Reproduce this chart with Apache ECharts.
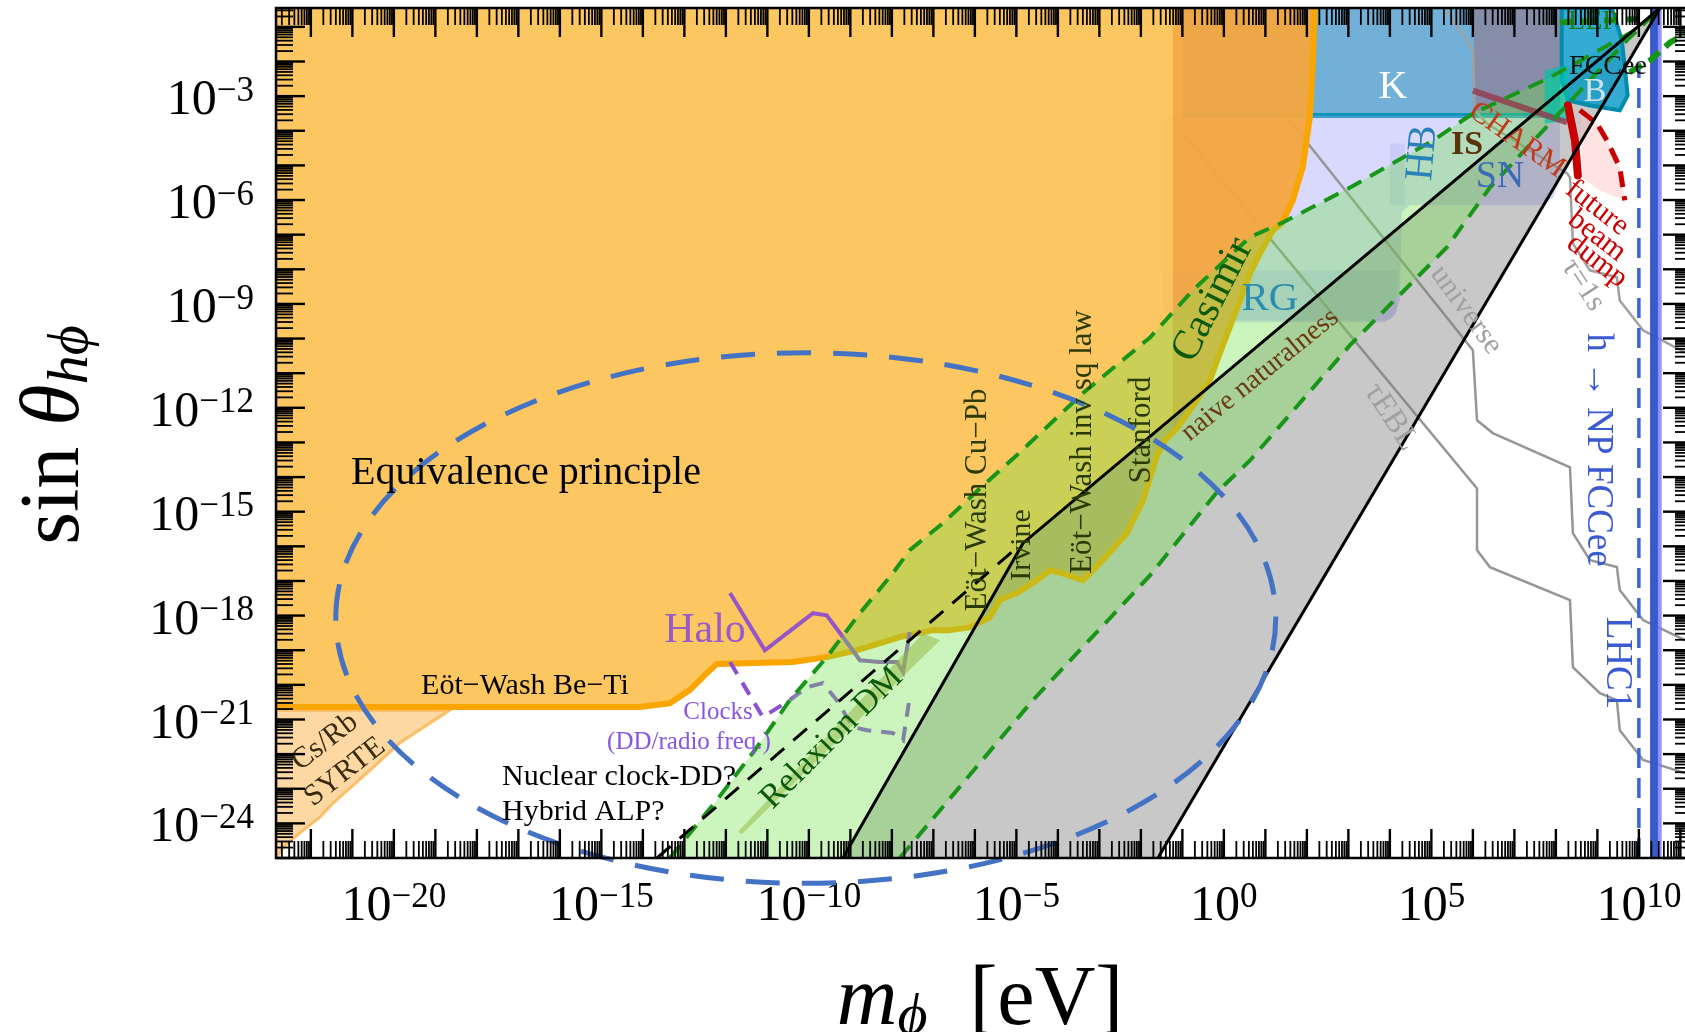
<!DOCTYPE html>
<html>
<head>
<meta charset="utf-8">
<script src="https://cdn.jsdelivr.net/npm/echarts@6/dist/echarts.min.js"></script>
<style>
  html, body { margin: 0; padding: 0; background: #fff; }
  #chart { width: 1685px; height: 1032px; }
</style>
</head>
<body>
<div id="chart"></div>
<script>
// All coordinates are [log10(m_phi / eV), log10(sin theta_hphi)].
const xTickLabels = [-20, -15, -10, -5, 0, 5, 10];
const yTickLabels = [-3, -6, -9, -12, -15, -18, -21, -24];

// Equivalence-principle / fifth-force exclusion (outline runs from the top edge down the Casimir edge, then along the Eot-Wash bounds)
const equivalencePrinciple = [
  [-22.84, -0.455], [2.19, -0.455], [2.14, -2.17], [2.07, -3.62], [1.90, -5.06], [1.66, -6.01],
  [1.40, -6.67], [1.18, -6.88], [0.87, -7.54], [0.63, -8.12], [0.39, -8.90], [0.14, -9.68],
  [-0.10, -10.43], [-0.34, -11.21], [-0.65, -11.78], [-0.99, -12.36], [-1.18, -12.65], [-1.42, -12.94],
  [-1.61, -13.37], [-1.95, -14.67], [-2.34, -15.62], [-2.92, -16.40], [-3.40, -16.98], [-3.88, -16.78],
  [-4.19, -16.69], [-4.60, -17.06], [-4.99, -17.35], [-5.40, -17.55], [-5.64, -18.05], [-6.12, -18.34],
  [-6.60, -18.42], [-7.01, -18.42], [-7.81, -18.62], [-8.84, -19.00], [-9.57, -19.20], [-10.39, -19.34],
  [-12.22, -19.40], [-12.51, -19.72], [-12.87, -20.15], [-13.35, -20.53], [-14.07, -20.64], [-22.84, -20.64]
];
const casimirRegion = [
  [-1.23, -0.455], [2.19, -0.455], [2.14, -2.17], [2.07, -3.62], [1.90, -5.06], [1.66, -6.01],
  [1.40, -6.67], [1.18, -6.88], [0.87, -7.54], [0.63, -8.12], [0.39, -8.90], [0.14, -9.68],
  [-0.10, -10.43], [-0.34, -11.21], [-0.65, -11.78], [-0.99, -12.36], [-1.18, -12.65], [-1.23, -12.70]
];
const syrteClocks = [
  [-22.84, -20.73], [-18.65, -20.73], [-19.86, -21.68], [-20.65, -22.55], [-21.47, -23.42],
  [-21.78, -23.82], [-22.27, -24.28], [-22.67, -24.69], [-22.84, -25.0]
];
// Naive-naturalness wedge bounded by the two solid black lines
const naturalnessLeft = [[-9.18, -25.0], [-4.84, -15.91], [10.51, -0.455]];
const naturalnessRight = [[-1.59, -25.0], [10.51, -0.455]];
const hybridAlpLine = [[-13.66, -25.0], [-4.92, -15.97]];
// Relaxion band between the two green dashed lines
const relaxionUpper = [
  [-13.35, -25.0], [-12.22, -23.33], [-11.25, -21.80], [-10.46, -20.44], [-9.57, -19.20], [-8.77, -17.93],
  [-7.98, -16.78], [-7.57, -16.11], [-6.77, -15.33], [-5.88, -14.33], [-4.99, -13.37], [-3.40, -11.58],
  [-1.78, -9.97], [-0.75, -8.61], [0.63, -7.07], [1.42, -6.65], [3.04, -5.64], [5.04, -4.28],
  [6.00, -3.50], [7.86, -2.46], [10.02, -1.02], [10.51, -0.455]
];
const relaxionLower = [
  [-7.81, -25.0], [-4.60, -20.44], [-3.47, -19.00], [-1.78, -16.84], [-0.17, -14.44], [0.63, -13.52],
  [3.04, -10.19], [5.37, -7.37], [6.41, -5.64], [8.10, -3.47], [9.71, -1.39], [10.51, -0.455]
];
const relaxionDM = [[-11.71, -24.25], [-7.25, -18.51], [-6.84, -18.71], [-11.61, -24.31]];
const haloLine = [
  [-11.90, -17.35], [-11.06, -19.00], [-9.90, -17.93], [-9.57, -17.99], [-9.18, -18.62],
  [-8.77, -19.29], [-8.29, -19.34], [-7.88, -19.34], [-7.73, -19.63], [-7.57, -18.48]
];
const clocksLine = [
  [-11.90, -19.34], [-11.11, -20.93], [-10.46, -20.44], [-10.05, -20.07], [-9.66, -19.95], [-9.33, -20.44],
  [-8.94, -21.22], [-8.60, -21.31], [-7.98, -21.39], [-7.73, -21.60], [-7.57, -20.36]
];
// Meson decays, astrophysics and beam dumps
const kaonRegion = [[-0.99, -0.455], [8.10, -0.455], [8.10, -3.56], [-0.99, -3.56]];
const kaonEdge = [[-0.99, -3.56], [8.10, -3.56]];
const heavyMesonOverlay = [[6.02, -0.455], [8.10, -0.455], [8.10, -3.56], [6.02, -3.56]];
const stellarRegion = [
  [-1.47, -3.56], [8.10, -3.56], [8.10, -5.43], [7.93, -5.95], [7.61, -6.15], [4.48, -6.15], [4.29, -6.36],
  [4.24, -8.90], [4.12, -9.33], [3.88, -9.53], [-1.18, -9.53], [-1.42, -9.33], [-1.47, -8.90]
];
const redGiantBand = [[-1.47, -8.03], [4.17, -8.03], [4.17, -9.18], [4.00, -9.47], [-1.18, -9.47], [-1.47, -9.18]];
const horizontalBranch = [[4.00, -4.37], [4.36, -4.37], [4.36, -6.15], [4.00, -6.15]];
const bMesonRegion = [[8.14, -0.455], [9.35, -0.455], [9.59, -1.39], [9.73, -2.98], [9.54, -3.41], [8.82, -3.27], [8.29, -3.12], [8.14, -2.55]];
const tealPatch = [[7.73, -2.26], [8.27, -2.11], [8.34, -3.70], [7.73, -3.79]];
const charmEdge = [[6.00, -2.84], [8.27, -3.76]];
const charmBound = [[8.29, -3.27], [8.46, -4.28], [8.53, -5.29]];
const futureBeamDump = [[8.58, -3.41], [8.99, -3.79], [9.23, -4.28], [9.54, -5.06], [9.66, -6.01]];
const futureBeamDumpInner = [[9.06, -5.72], [8.65, -5.38]];
const lepBound = [[8.10, -0.87], [10.27, -0.76]];
const fccReach = [[9.78, -2.31], [10.27, -1.97], [10.75, -1.45], [11.28, -1.10]];
const fccHiggs = [[10.0, -25.0], [10.0, -2.2]];
const lhcStrip = [[10.27, -25.0], [10.46, -25.0], [10.46, -0.455], [10.27, -0.455]];
const lhcEdge = [[10.46, -25.0], [10.55, -25.0], [10.55, -0.455], [10.46, -0.455]];
// Lifetime contours
const lifetimeUniverse = [
  [-0.58, -0.455], [6.00, -10.34], [6.10, -12.36], [6.48, -12.73], [8.34, -13.72], [8.41, -15.62],
  [8.82, -16.40], [9.47, -16.60], [9.54, -17.26], [10.10, -18.13], [11.11, -18.71], [11.28, -18.80]
];
const lifetimeEBL = [
  [-0.94, -4.14], [6.10, -14.33], [6.10, -16.11], [6.41, -16.60], [8.34, -17.55], [8.41, -19.49],
  [9.06, -20.24], [9.47, -20.44], [9.54, -21.31], [10.10, -22.17], [11.11, -22.55], [11.28, -22.61]
];
const lifetimeOneSecond = [
  [5.33, -0.455], [6.00, -1.68], [6.05, -3.41], [6.34, -3.79], [8.27, -5.23], [8.34, -5.35], [8.41, -7.25],
  [8.82, -8.03], [9.47, -8.23], [9.54, -8.90], [10.10, -9.76], [11.11, -10.40], [11.28, -10.48]
];
// Bounding box (lower-left, upper-right) of the dashed target ellipse
const targetEllipseBox = [[-21.40, -25.73], [1.25, -10.41]];

const FONT = 'Liberation Serif';
const X_MIN = -22.84, X_MAX = 11.28, Y_MIN = -25.0, Y_MAX = -0.455;

let zc = 1;
function polygon(name, pts, style, clip = true) {
  return {
    type: 'custom', name, coordinateSystem: 'cartesian2d', z: zc++, clip, silent: true,
    data: [pts[0]], encode: { x: 0, y: 1 },
    renderItem: (p, api) => ({ type: 'polygon', shape: { points: pts.map(q => api.coord(q)) }, style })
  };
}
function polyline(name, pts, style, clip = true) {
  return {
    type: 'custom', name, coordinateSystem: 'cartesian2d', z: zc++, clip, silent: true,
    data: [pts[0]], encode: { x: 0, y: 1 },
    renderItem: (p, api) => ({ type: 'polyline', shape: { points: pts.map(q => api.coord(q)) }, style: Object.assign({ fill: 'none' }, style) })
  };
}

const series = [
  polygon('K', kaonRegion, { fill: 'rgba(60,145,200,0.72)' }),
  polygon('heavy', heavyMesonOverlay, { fill: 'rgba(160,100,110,0.45)' }),
  polyline('K edge', kaonEdge, { stroke: 'rgb(0,150,185)', lineWidth: 5 }),
  polygon('stellar', stellarRegion, { fill: 'rgba(160,160,250,0.40)' }),
  polygon('RG', redGiantBand, { fill: 'rgba(90,120,200,0.15)' }),
  polygon('HB', horizontalBranch, { fill: 'rgba(120,130,220,0.15)' }),
  polyline('tau universe', lifetimeUniverse, { stroke: 'rgb(150,150,150)', lineWidth: 2.5 }),
  polyline('tau EBL', lifetimeEBL, { stroke: 'rgb(150,150,150)', lineWidth: 2.5 }),
  polyline('tau 1s', lifetimeOneSecond, { stroke: 'rgb(160,160,160)', lineWidth: 2.5 }),
  polygon('EP', equivalencePrinciple, { fill: 'rgba(252,194,84,0.93)' }),
  polygon('SYRTE', syrteClocks, { fill: 'rgba(252,190,100,0.6)', stroke: 'rgba(250,180,80,0.8)', lineWidth: 3 }),
  polygon('Casimir', casimirRegion, { fill: 'rgba(230,120,30,0.35)' }),
  polygon('naturalness', naturalnessLeft.concat(naturalnessRight.slice().reverse()), { fill: 'rgba(128,128,128,0.43)' }),
  polyline('EP edge', equivalencePrinciple.slice(1), { stroke: 'rgb(250,165,0)', lineWidth: 6, lineJoin: 'round' }),
  polyline('Halo', haloLine, { stroke: 'rgb(150,85,200)', lineWidth: 4 }),
  polyline('Clocks', clocksLine, { stroke: 'rgb(140,80,215)', lineWidth: 4, lineDash: [14, 10] }),
  polygon('Relaxion DM', relaxionDM, { fill: 'rgba(175,165,80,0.55)' }),
  polygon('relaxion', relaxionUpper.concat(relaxionLower.slice().reverse()), { fill: 'rgba(110,225,70,0.35)' }),
  polygon('future beam dump area', futureBeamDump.concat(futureBeamDumpInner), { fill: 'rgba(255,190,190,0.45)' }),
  polygon('B', bMesonRegion, { fill: 'rgba(0,150,200,0.8)', stroke: 'rgb(0,140,170)', lineWidth: 4 }),
  polygon('teal', tealPatch, { fill: 'rgba(0,195,170,0.7)' }),
  polyline('CHARM edge', charmEdge, { stroke: 'rgba(150,50,70,0.75)', lineWidth: 6 }),
  polyline('CHARM', charmBound, { stroke: 'rgb(200,0,0)', lineWidth: 8, lineCap: 'round' }),
  polyline('future beam dump', futureBeamDump, { stroke: 'rgb(200,0,0)', lineWidth: 5, lineDash: [16, 9] }),
  polygon('LHC', lhcStrip, { fill: 'rgb(55,90,205)' }),
  polygon('LHC edge', lhcEdge, { fill: 'rgba(120,120,255,0.8)' }),
  polyline('FCC higgs', fccHiggs, { stroke: 'rgb(60,100,215)', lineWidth: 3.5, lineDash: [20, 10] }),
  polyline('LEP', lepBound, { stroke: 'rgb(20,150,20)', lineWidth: 6, lineDash: [14, 8] }),
  polyline('FCC reach', fccReach, { stroke: 'rgb(20,150,20)', lineWidth: 6, lineDash: [14, 8] }),
  polyline('relaxion upper', relaxionUpper, { stroke: 'rgb(25,150,25)', lineWidth: 4, lineDash: [16, 10] }),
  polyline('relaxion lower', relaxionLower, { stroke: 'rgb(25,150,25)', lineWidth: 4, lineDash: [16, 10] }),
  polyline('hybrid ALP', hybridAlpLine, { stroke: '#000', lineWidth: 3, lineDash: [18, 12] }),
  polyline('naturalness left', naturalnessLeft, { stroke: '#000', lineWidth: 3 }),
  polyline('naturalness right', naturalnessRight, { stroke: '#000', lineWidth: 3 }),
  {
    type: 'custom', name: 'target ellipse', coordinateSystem: 'cartesian2d', z: zc++, clip: false, silent: true,
    data: [targetEllipseBox[0]], encode: { x: 0, y: 1 },
    renderItem: (p, api) => {
      const a = api.coord(targetEllipseBox[0]), b = api.coord(targetEllipseBox[1]);
      return {
        type: 'ellipse',
        shape: { cx: (a[0] + b[0]) / 2, cy: (a[1] + b[1]) / 2, rx: Math.abs(b[0] - a[0]) / 2, ry: Math.abs(b[1] - a[1]) / 2 },
        style: { fill: 'none', stroke: 'rgb(68,114,196)', lineWidth: 5, lineDash: [34, 22] }
      };
    }
  }
];

// Log-scale ticks on all four sides of the frame
const xTicks = [], yTicks = [];
for (let n = -23; n <= 11; n++) for (let k = 1; k <= 9; k++) {
  const v = n + Math.log10(k);
  if (v >= X_MIN && v <= X_MAX) xTicks.push([v, Y_MIN, k === 1 ? 1 : 0]);
}
for (let n = -25; n <= 0; n++) for (let k = 1; k <= 9; k++) {
  const v = n + Math.log10(k);
  if (v >= Y_MIN && v <= Y_MAX) yTicks.push([X_MIN, v, k === 1 ? 1 : 0]);
}
series.push({
  type: 'custom', name: 'x ticks', coordinateSystem: 'cartesian2d', z: 200, clip: false, silent: true,
  data: xTicks, encode: { x: 0, y: 1 },
  renderItem: (p, api) => {
    const cs = p.coordSys, major = api.value(2) === 1, len = major ? 29 : 17;
    const px = api.coord([api.value(0), api.value(1)])[0];
    const st = { stroke: '#000', lineWidth: major ? 2.4 : 1.8 };
    return { type: 'group', children: [
      { type: 'line', shape: { x1: px, y1: cs.y + cs.height, x2: px, y2: cs.y + cs.height - len }, style: st },
      { type: 'line', shape: { x1: px, y1: cs.y, x2: px, y2: cs.y + len }, style: st }
    ] };
  }
});
series.push({
  type: 'custom', name: 'y ticks', coordinateSystem: 'cartesian2d', z: 200, clip: false, silent: true,
  data: yTicks, encode: { x: 0, y: 1 },
  renderItem: (p, api) => {
    const cs = p.coordSys, major = api.value(2) === 1, len = major ? 29 : 17;
    const py = api.coord([api.value(0), api.value(1)])[1];
    const st = { stroke: '#000', lineWidth: major ? 2.4 : 1.8 };
    return { type: 'group', children: [
      { type: 'line', shape: { x1: cs.x, y1: py, x2: cs.x + len, y2: py }, style: st },
      { type: 'line', shape: { x1: cs.x + cs.width, y1: py, x2: cs.x + cs.width - len, y2: py }, style: st }
    ] };
  }
});
series.push({
  type: 'custom', name: 'frame', coordinateSystem: 'cartesian2d', z: 201, clip: false, silent: true,
  data: [[X_MIN, Y_MIN]], encode: { x: 0, y: 1 },
  renderItem: (p) => {
    const cs = p.coordSys;
    return { type: 'rect', shape: { x: cs.x, y: cs.y, width: cs.width, height: cs.height }, style: { fill: 'none', stroke: '#000', lineWidth: 2.5 } };
  }
});

const powerLabel = v => `{b|10}{s|${v < 0 ? '\u2212' + (-v) : v}}`;
const tickRich = {
  b: { fontFamily: FONT, fontSize: 50, lineHeight: 54, color: '#000' },
  s: { fontFamily: FONT, fontSize: 35, lineHeight: 28, verticalAlign: 'top', color: '#000' }
};

// In-plot annotations [text, x, y, size, rotationDeg, color, align, weight]
const annotations = [
  ['Equivalence principle', 526, 473, 40, 0, '#000'],
  ['E\u00f6t\u2212Wash Be\u2212Ti', 525, 686, 30, 0, '#000'],
  ['Cs/Rb', 325, 742, 30, 38, '#3a2a10'],
  ['SYRTE', 345, 772, 30, 38, '#3a2a10'],
  ['Halo', 705, 631, 42, 0, '#9a5ac8'],
  ['Clocks', 718, 712, 25, 0, '#8a55e0'],
  ['(DD/radio freq.)', 689, 742, 25, 0, '#8a55e0'],
  ['Nuclear clock-DD?', 502, 777, 30, 0, '#000', 'left'],
  ['Hybrid ALP?', 502, 812, 30, 0, '#000', 'left'],
  ['Relaxion DM', 832, 738, 34, 45, '#0a5a0a'],
  ['E\u00f6t\u2212Wash Cu\u2212Pb', 978, 500, 31, 90, '#2a3a00'],
  ['Irvine', 1022, 545, 30, 90, '#2a3a00'],
  ['E\u00f6t\u2212Wash inv sq law', 1083, 442, 31, 90, '#2a3a00'],
  ['Stanford', 1142, 430, 31, 90, '#2a3a00'],
  ['Casimir', 1213, 300, 42, 63, '#0a5a0a'],
  ['naive naturalness', 1260, 375, 28, 39, '#6a3a10'],
  ['RG', 1270, 299, 41, 0, '#2a8cb0'],
  ['K', 1393, 87, 40, 0, '#ffffff'],
  ['HB', 1423, 153, 40, 85, '#2a80b8'],
  ['IS', 1467, 145, 34, 0, '#5a3208', 'center', 'bold'],
  ['SN', 1500, 177, 38, 0, '#3a6ab8'],
  ['CHARM', 1517, 140, 30, -35, '#c03a18'],
  ['B', 1595, 92, 34, 0, '#cfe2ea'],
  ['FCCee', 1608, 67, 28, 0, '#111111'],
  ['LEP', 1593, 22, 28, 0, '#1a7a1a'],
  ['future', 1597, 208, 30, -38, '#cc0000'],
  ['beam', 1597, 236, 30, -38, '#cc0000'],
  ['dump', 1597, 261, 30, -38, '#cc0000'],
  ['\u03c4=1s', 1583, 285, 30, -57, '#a0a0a0'],
  ['universe', 1466, 310, 30, -54, '#a0a0a0'],
  ['\u03c4EBL', 1391, 417, 32, -57, '#a0a0a0'],
  ['h \u2192 NP FCCee', 1598, 450, 37, -90, '#3a5ad2'],
  ['LHC1', 1617, 663, 37, -90, '#3a5ad2']
];
const graphic = annotations.map(a => ({
  type: 'text', x: a[1], y: a[2], rotation: a[4] * Math.PI / 180, z: 150, silent: true,
  style: {
    text: a[0], fill: a[5], fontFamily: FONT, fontSize: a[3], fontWeight: a[7] || 'normal',
    align: a[6] || 'center', verticalAlign: 'middle'
  }
}));
graphic.push({
  type: 'text', x: 56, y: 435, rotation: Math.PI / 2, z: 150, silent: true,
  style: {
    text: '{a|sin }{b|\u03b8}{c|h\u03d5}', align: 'center', verticalAlign: 'middle', fill: '#000',
    rich: {
      a: { fontFamily: FONT, fontSize: 84, lineHeight: 90 },
      b: { fontFamily: FONT, fontSize: 84, fontStyle: 'italic', lineHeight: 90 },
      c: { fontFamily: FONT + ', DejaVu Serif', fontSize: 58, fontStyle: 'italic', lineHeight: 50, verticalAlign: 'bottom' }
    }
  }
});
graphic.push({
  type: 'text', x: 980, y: 1002, z: 150, silent: true,
  style: {
    text: '{a|m}{b|\u03d5}{c|  [eV]}', align: 'center', verticalAlign: 'middle', fill: '#000',
    rich: {
      a: { fontFamily: FONT, fontSize: 84, fontStyle: 'italic', lineHeight: 90 },
      b: { fontFamily: FONT + ', DejaVu Serif', fontSize: 58, fontStyle: 'italic', lineHeight: 50, verticalAlign: 'bottom' },
      c: { fontFamily: FONT, fontSize: 84, lineHeight: 90 }
    }
  }
});

const chart = echarts.init(document.getElementById('chart'), null, { renderer: 'canvas' });
chart.setOption({
  animation: false,
  backgroundColor: '#ffffff',
  // the frame runs a few pixels past the right edge of the canvas
  grid: { left: 276, top: 8, width: 1416, height: 850, show: false, outerBoundsMode: 'none', containLabel: false },
  xAxis: {
    type: 'value', min: X_MIN, max: X_MAX,
    axisLine: { show: false }, axisTick: { show: false }, splitLine: { show: false },
    axisLabel: { customValues: xTickLabels, margin: 22, formatter: powerLabel, rich: tickRich }
  },
  yAxis: {
    type: 'value', min: Y_MIN, max: Y_MAX,
    axisLine: { show: false }, axisTick: { show: false }, splitLine: { show: false },
    axisLabel: { customValues: yTickLabels, margin: 22, padding: [10, 0, 0, 0], formatter: powerLabel, rich: tickRich }
  },
  graphic,
  series
});
</script>
</body>
</html>
